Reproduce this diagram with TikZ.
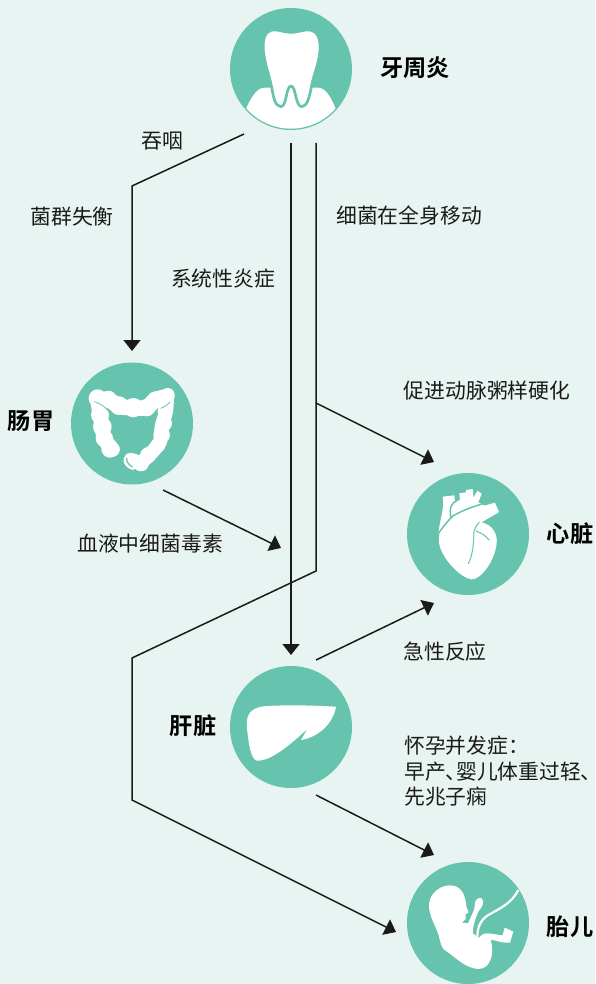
\documentclass[tikz,border=0pt]{standalone}
\usepackage{fontspec}
\setmainfont{Noto Sans CJK SC}
\newfontfamily\cjkbold[BoldFont={Noto Sans CJK SC Bold}]{Noto Sans CJK SC Bold}
\newcommand{\narrowmark}[1]{{\addfontfeature{RawFeature=+palt}#1}}
\usetikzlibrary{arrows.meta}
\definecolor{bgc}{HTML}{E8F4F1}
\definecolor{teal}{HTML}{66C4AE}
\definecolor{ink}{HTML}{1A1A1A}
\tikzset{
  organ/.style={circle,fill=teal,draw=none,minimum size=122pt,inner sep=0pt},
  lab/.style={font=\fontsize{20.8pt}{25pt}\selectfont,text=ink,inner sep=0pt},
  head/.style={font=\cjkbold\fontsize{23.2pt}{26pt}\selectfont,text=black,inner sep=0pt},
  conn/.style={draw=ink,line width=1.5pt,line join=miter},
  arr/.style={conn,-{Triangle[length=11pt,width=17pt]}},
  zoomed/.style={x=0.3333pt,y=-0.3333pt},
  seam/.style={draw=teal,line width=1pt,line cap=round,fill=none}
}
\begin{document}
\begin{tikzpicture}[x=1pt,y=-1pt]
\useasboundingbox (0,0) rectangle (595,984);
\fill[bgc] (0,0) rectangle (595,984);
% organ circles
\node[organ] (tooth) at (291,69) {};
\node[organ] (gut) at (132,423.5) {};
\node[organ] (heart) at (468,534) {};
\node[organ] (liver) at (291,727) {};
\node[organ] (fetus) at (468,923) {};
% tooth
\begin{scope}[shift={(220,0)},zoomed]
  \begin{scope}
    \clip (213,208) circle [radius=178];
    \fill[white] (70,345) .. controls (90,295) and (110,262) .. (135,263)
      -- (295,263) .. controls (320,265) and (335,295) .. (355,345)
      -- (355,400) -- (70,400) -- cycle;
  \end{scope}
  \draw[fill=white,draw=teal,line width=2.7pt,line join=round]
    (213,97) .. controls (190,97) and (175,87) .. (155,90)
    .. controls (135,95) and (128,115) .. (130,150)
    .. controls (133,190) and (148,225) .. (155,262)
    .. controls (160,290) and (165,320) .. (183,320)
    .. controls (200,320) and (198,258) .. (213,258)
    .. controls (228,258) and (226,320) .. (245,320)
    .. controls (262,320) and (268,290) .. (274,262)
    .. controls (280,225) and (298,190) .. (300,150)
    .. controls (302,115) and (292,95) .. (272,90)
    .. controls (252,87) and (236,97) .. (213,97) -- cycle;
  \fill[white] (213,268) .. controls (205,272) and (205,300) .. (198,325) -- (228,325)
    .. controls (222,300) and (222,272) .. (213,268) -- cycle;
\end{scope}
% colon
\begin{scope}[shift={(65,355)},zoomed]
  \draw[white,line width=15pt,line cap=round,line join=round]
    plot [smooth,tension=0.5] coordinates {(142,283) (118,250) (108,195) (98,135)};
  \draw[white,line width=15.5pt,line cap=round,line join=round]
    plot [smooth,tension=0.5] coordinates {(98,132) (135,137) (165,155) (205,158) (245,158) (270,135) (305,125)};
  \draw[white,line width=14pt,line cap=round,line join=round]
    plot [smooth,tension=0.5] coordinates {(306,128) (303,170) (290,215) (285,260) (255,298) (225,325)};
  \foreach \x/\y/\r in {98/130/27, 130/132/25, 162/152/28, 205/158/29, 245/158/26, 272/135/26, 308/120/21, 300/170/22, 297/205/24, 290/240/25, 278/272/22, 250/300/24, 228/325/24, 112/215/28, 118/250/26, 135/282/26, 105/180/27}
    \fill[white] (\x,\y) circle [radius=\r];
  \fill[white] (205,345) .. controls (180,340) and (165,315) .. (185,297)
    .. controls (205,288) and (230,300) .. (235,320) -- cycle;
  \draw[teal,line width=1.2pt,line cap=round] (185,310) .. controls (185,322) and (192,330) .. (202,336);
  \draw[seam,line width=.8pt] (88,140) .. controls (105,145) and (120,155) .. (130,168);
  \draw[seam,line width=.8pt] (288,160) .. controls (298,155) and (308,150) .. (315,142);
\end{scope}
% heart
\begin{scope}[shift={(400,465)},zoomed]
  \fill[white] (128,95) -- (163,91) -- (165,110) -- (170,160) -- (115,210)
    .. controls (118,165) and (135,130) .. (128,95) -- cycle;
  \fill[white] (145,175) -- (155,130) .. controls (160,115) and (170,108) .. (180,105)
    -- (178,85) -- (197,82) -- (199,100) -- (198,75) -- (218,72) -- (221,98) -- (232,77) -- (245,86) -- (235,112)
    -- (260,125) -- cycle;
  \fill[white] (119,205) .. controls (150,170) and (200,135) .. (285,113)
    -- (297,141) .. controls (275,155) and (255,165) .. (245,172)
    .. controls (280,180) and (293,210) .. (290,235)
    .. controls (285,285) and (245,343) .. (215,343)
    .. controls (180,340) and (115,270) .. (117,225)
    .. controls (117,215) and (118,210) .. (119,205) -- cycle;
  \draw[seam,line width=1.5pt,line cap=butt] (110,212) .. controls (130,185) and (145,165) .. (160,152)
     .. controls (190,135) and (225,122) .. (262,113);
  \draw[seam,line width=1.5pt,line cap=butt] (172,105) .. controls (155,112) and (146,130) .. (153,158);
  \draw[seam] (238,172) .. controls (230,180) and (224,190) .. (222,200)
     .. controls (221,240) and (218,270) .. (205,296);
  \draw[seam] (228,198) .. controls (245,205) and (258,212) .. (268,226);
\end{scope}
% liver
\begin{scope}[shift={(225,660)},zoomed]
  \fill[white] (115,139) .. controls (180,134) and (260,136) .. (333,140)
    .. controls (325,190) and (280,232) .. (228,240)
    -- (247,207)
    .. controls (205,245) and (140,305) .. (95,302)
    .. controls (78,295) and (72,260) .. (66,205)
    .. controls (62,165) and (75,145) .. (115,139) -- cycle;
\end{scope}
% fetus
\begin{scope}[shift={(400,855)},zoomed]
  \fill[white] (87,150) .. controls (87,115) and (125,85) .. (160,92)
    .. controls (190,98) and (197,130) .. (199,155)
    -- (206,172) -- (197,178) -- (197,192) -- (186,203) -- (204,205)
    .. controls (212,185) and (222,170) .. (224,155)
    .. controls (222,135) and (235,125) .. (245,130)
    .. controls (256,138) and (245,160) .. (236,168)
    .. controls (226,190) and (218,215) .. (218,235)
    -- (238,248) .. controls (250,225) and (285,240) .. (308,241)
    -- (314,218) -- (340,230) -- (330,263)
    .. controls (310,266) and (290,256) .. (272,254)
    .. controls (284,295) and (272,342) .. (235,342)
    .. controls (195,340) and (165,305) .. (130,282)
    .. controls (118,262) and (118,240) .. (110,225)
    .. controls (95,190) and (87,175) .. (87,150) -- cycle;
  \draw[teal,line width=3pt] (355,105) .. controls (335,145) and (300,160) .. (265,180)
    .. controls (240,195) and (232,220) .. (232,246);
  \draw[white,line width=2.2pt] (355,105) .. controls (335,145) and (300,160) .. (265,180)
    .. controls (240,195) and (232,220) .. (232,246);
\end{scope}
% labels
\node[head] (t1) at (415,67.5) {牙周炎};
\node[head] (t2) at (31,421.5) {肠胃};
\node[head] (t3) at (570,533.5) {心脏};
\node[head] (t4) at (193,725.5) {肝脏};
\node[head] (t5) at (570,926.5) {胎儿};
\node[lab] (l1) at (162,141.5) {吞咽};
\node[lab] (l2) at (72,216.5) {菌群失衡};
\node[lab] (l3) at (409,215.5) {细菌在全身移动};
\node[lab] (l4) at (223,278.5) {系统性炎症};
\node[lab] (l5) at (487,390.5) {促进动脉粥样硬化};
\node[lab] (l6) at (150,543.5) {血液中细菌毒素};
\node[lab] (l7) at (445,651.5) {急性反应};
\node[lab,anchor=west] (l8) at (404,745.5) {怀孕并发症：};
\node[lab,anchor=west] (l9) at (404,771.5) {早产\narrowmark{、}婴儿体重过轻\narrowmark{、}};
\node[lab,anchor=west] (l10) at (404,796.5) {先兆子痫};
% connector ends
\coordinate (a1) at (244,134); \coordinate (a2) at (132,186); \coordinate (a3) at (132,351);
\coordinate (b1) at (291,143); \coordinate (b2) at (291,655);
\coordinate (c1) at (316,143); \coordinate (c2) at (316,571); \coordinate (c3) at (132,658);
\coordinate (c4) at (132,800); \coordinate (c5) at (396,932);
\coordinate (d1) at (316,403); \coordinate (d2) at (434,462);
\coordinate (e1) at (163,490); \coordinate (e2) at (281,548);
\coordinate (f1) at (316,660); \coordinate (f2) at (434,603);
\coordinate (g1) at (316,795); \coordinate (g2) at (434,855);
\draw[arr] (a1) -- (a2) -- (a3);
\draw[arr] (b1) -- (b2);
\draw[arr] (c1) -- (c2) -- (c3) -- (c4) -- (c5);
\draw[arr] (d1) -- (d2);
\draw[arr] (e1) -- (e2);
\draw[arr] (f1) -- (f2);
\draw[arr] (g1) -- (g2);
\end{tikzpicture}
\end{document}
